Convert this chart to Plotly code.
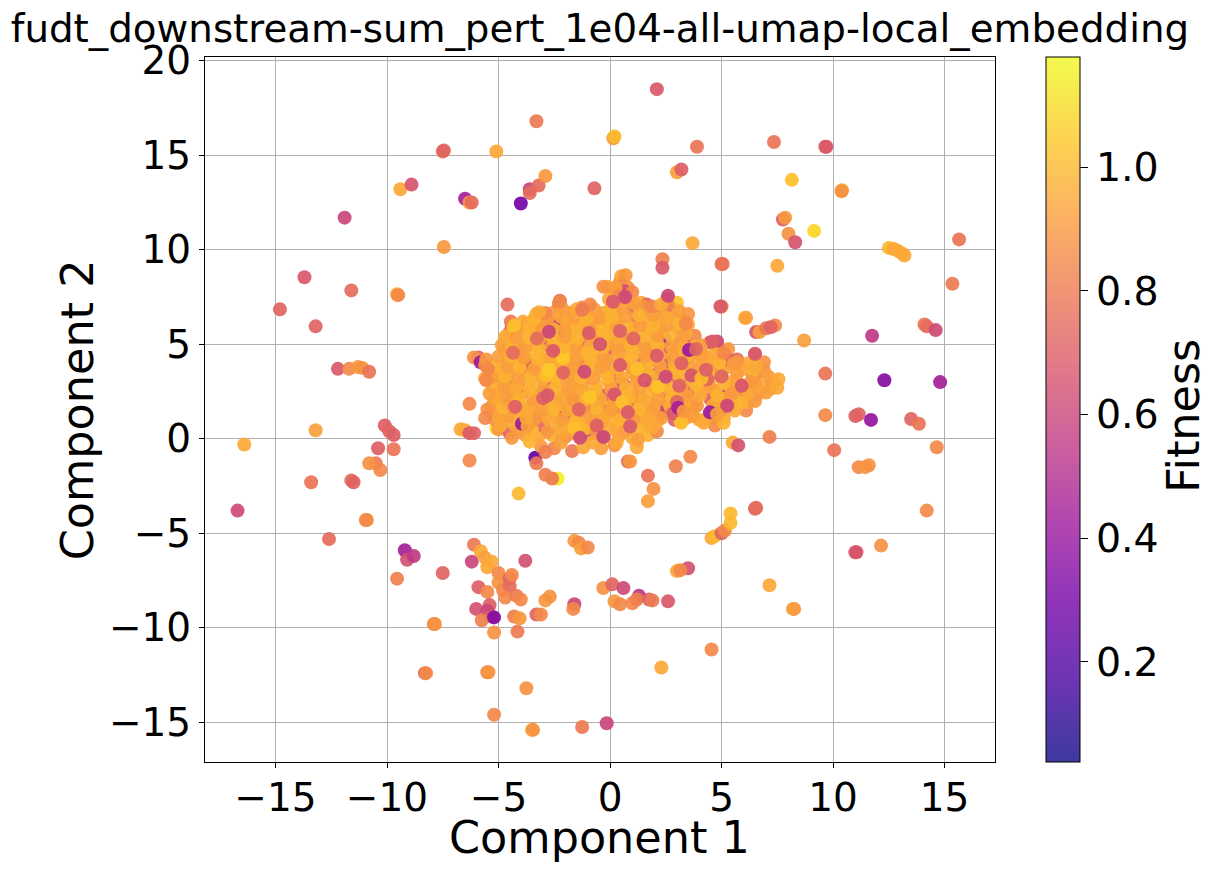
import plotly.graph_objects as go
import plotly.colors as pc

TITLE = "fudt_downstream-sum_pert_1e04-all-umap-local_embedding"

# (component 1, component 2, fitness)
outer_left = [
(-16.7,-3.8,.62),(-16.4,-.3,.95),(-14.8,6.85,.72),(-13.7,8.55,.68),(-13.2,5.95,.72),(-13.4,-2.3,.78),(-13.2,.45,.92),
(-12.6,-5.3,.75),(-12.2,3.7,.68),(-11.9,11.7,.6),(-11.6,7.85,.75),(-11.7,3.7,.85),(-11.3,3.8,.9),(-11.1,3.75,.88),
(-10.8,3.55,.78),(-11.6,-2.2,.75),(-11.5,-2.3,.72),(-10.1,.7,.7),(-9.9,.4,.72),(-9.7,-.55,.78),(-9.7,.2,.7),
(-10.4,-.5,.7),(-10.5,-1.3,.8),(-10.8,-1.3,.88),(-10.3,-1.65,.85),(-10.9,-4.3,.9),(-10.95,-4.3,.85),(-9.55,7.65,.95),
(-9.5,7.6,.85),(-9.4,13.2,.95),(-8.9,13.45,.66),(-7.5,15.2,.78),(-7.45,15.25,.72),(-7.45,10.15,.9),(-6.5,12.7,.45),
(-6.3,12.5,.9),(-6.2,12.5,.75),(-5.1,15.2,.95),(-3.3,16.8,.8),(-3.6,13.2,.6),(-3.6,13,.75),(-3.2,13.4,.75),
(-2.9,13.9,.9),(-4,12.45,.3),(-.7,13.25,.72),(.15,15.9,.9),(.2,16,1),
]
outer_right = [
(2.1,18.5,.68),(3,14.1,.92),(3.2,14.25,.7),(3.9,15.45,.78),(7.35,15.7,.78),(9.65,15.45,.72),(9.7,15.45,.68),
(8.15,13.7,1.02),(10.4,13.15,.95),(10.38,13.1,.88),(9.15,11,1.08),(7.75,11.6,.7),(7.85,11.7,.9),(8,10.85,.88),
(8.3,10.4,.66),(3.7,10.35,.95),(2.35,9.5,.82),(2.35,9.05,.68),(5,9.25,.72),(5.05,9.25,.78),(7.5,9.15,.95),
(12.5,10.1,1),(12.7,10.05,.95),(12.9,9.95,.95),(13.1,9.8,.95),(13.2,9.7,.95),(15.65,10.55,.78),(15.35,8.2,.8),
(14.1,6.05,.78),(14.2,5.95,.75),(14.6,5.75,.62),(11.75,5.45,.55),(8.7,5.2,.92),(9.65,3.45,.78),(12.3,3.1,.35),
(14.8,3,.45),(9.65,1.25,.85),(11,1.2,.7),(11.15,1.3,.72),(11.7,1,.4),(13.5,1.05,.72),(13.85,.8,.78),(14.65,-.45,.85),
(10.05,-.6,.78),(11.15,-1.5,.85),(11.45,-1.5,.9),(11.6,-1.4,.88),(14.2,-3.8,.85),(11.05,-6,.72),(11,-6,.66),
(12.15,-5.65,.88),(7.15,-7.75,.95),(8.25,-9,.85),(8.2,-9,.92),(6.05,6.4,1),(6.1,6.4,.92),(6.55,5.65,.65),(6.7,5.65,.92),
(7,5.85,.8),(7.4,6,.85),(7.2,5.9,.72),(6.5,4.45,.72),
]
outer_bottom = [
(2.3,-12.1,.95),(4.55,-11.15,.85),(-.15,-15.05,.6),(-1.25,-15.25,.8),(-3.5,-15.4,.95),(-3.45,-15.4,.88),(-5.2,-14.6,.85),
(-3.75,-13.2,.88),(-5.5,-12.35,.8),(-5.45,-12.35,.9),(-8.3,-12.4,.75),(-8.25,-12.4,.85),(-7.9,-9.8,.82),(-7.85,-9.8,.88),
(-7.5,-7.1,.72),(-9.55,-7.4,.82),(-9.2,-5.9,.45),(-9.1,-6.4,.65),(-8.8,-6.2,.55),(-6.1,-5.6,.8),(-5.8,-5.95,.95),
(-6.2,-6.5,.6),(-5.6,-6.3,.92),(-5.5,-6.8,.95),(-5.3,-6.5,.95),(-5.9,-7.85,.7),(-5.5,-8.1,.85),(-6,-9,.65),(-5.4,-8.8,.7),
(-5.5,-9.1,.6),(-5.3,-9.4,.68),(-5.75,-9.6,.82),(-5.2,-9.45,.35),(-5.2,-10.25,.88),(-5,-7.1,.85),(-5,-7.6,.88),(-4.8,-8,.85),
(-4.5,-7.4,.7),(-4.5,-7.8,.75),(-4.7,-8.4,.85),(-4.2,-8.3,.8),(-4,-8.5,.85),(-3.8,-6.45,.65),(-4.4,-7.2,.85),(-4.3,-9.4,.82),
(-4.15,-10.2,.8),(-4.05,-9.5,.9),(-2.9,-8.55,.9),(-2.7,-8.35,.88),(-3.3,-9.3,.72),(-3.1,-9.3,.85),(-1.6,-8.75,.6),
(-1.65,-9,.85),(-1.6,-5.4,.9),(-1.4,-5.5,.85),(-1.3,-5.8,.92),(-1,-5.75,.85),(-.3,-7.9,.88),(.1,-7.7,.72),(.6,-7.9,.62),
(1.3,-8.3,.55),(1,-8.7,.85),(.2,-8.6,.9),(.45,-8.75,.85),(1.2,-8.5,.82),(1.75,-8.5,.72),(1.9,-8.55,.8),(2.6,-8.6,.68),
(3,-7,.95),(3.5,-6.85,.65),(3.15,-6.95,.85),(4.55,-5.25,.95),(4.7,-5.15,1),(5,-5,.72),(5.15,-4.85,.85),(5.4,-4.45,1),
(5.4,-3.95,1),(6.5,-3.7,.72),(6.55,-3.65,.75),(1.7,-3.3,.92),(1.95,-2.65,.88),(1.7,-1.95,.78),(2.95,-1.45,.82),(3.6,-.95,.85),
(-4.1,-2.9,1),(-2.35,-2.1,1.15),(-2.6,-2.1,.8),(-2.9,-1.9,.82),(-3.35,-1,.25),(-3.3,-1.3,.8),(.8,-1.2,.75),(.9,-1.2,.9),
(7.15,.1,.82),(5.5,-.2,.95),(5.75,-.35,.65),(-6.3,-1.15,.85),(-6.5,.45,.95),(-6.7,.5,.95),(-6.3,.3,.68),(-6.1,.3,.72),
(-6.3,1.85,.85),(-5.1,.55,1.1),(-5,.5,.9),
]
cluster_accents = [
(-3.6,3.7,.72),(-1.2,4.6,.62),(-.2,1.5,.38),(-1.5,2.7,.7),(1,2.1,.42),(2.5,1.7,.35),(-2.1,5.9,.62),(.4,1.3,.66),(3.6,4.5,.68),(-4.6,3,.35),(1.8,4.6,.55),(.7,5,.66),(2.45,5.25,.45),(-2.3,6.3,.45),(3.7,1.6,.58),(-4.3,1.6,.5),(-2.05,1.5,.45),(-.6,2,.5),(1.9,3,.4),(5.2,2.3,.55),
]
cluster_low = [
(-3.1,-.4,.9),(-2.5,-.5,.85),(-1.7,-.65,.8),(-1.2,-.45,.95),(-.4,-.5,.92),(.2,-.35,.88),(1.2,-.45,.95),(-2.9,-.7,.82),
(-4.5,.3,.7),(-3.8,.2,.92),(-3.2,.15,.95),(-2.6,.2,.98),(-2,.1,.88),(-1.4,.2,.95),(-.9,.25,.65),(-.3,.05,.92),(.4,.15,.9),(1,.05,.95),(1.7,.2,.98),(2.1,.4,.85),(4.7,.7,.85),
(-5.15,1,.88),(-4.8,.95,.92),(-4.3,.75,.95),(-3.6,.8,.88),(-3,.7,.72),(-2.3,.75,.95),(-1.7,.65,.92),(-1,.7,.98),(-.4,.8,.85),(.3,.7,.95),(.9,.75,.7),(1.5,.8,.92),(2.1,.9,.98),(2.9,1,.7),(3.4,1.1,.92),(4,1,.95),(4.6,1.15,.85),(5.1,1.1,.95),(6.1,1.5,.85),
(-5.3,1.4,.75),(-4.3,1.4,.92),(-3.8,1.3,.95),(-3.2,1.2,.85),(-2.6,1.3,.98),(-2,1.25,.7),(-1.4,1.2,.95),(-.7,1.35,.9),(-.1,1.3,.95),(.6,1.25,.88),(1.2,1.35,1),(1.8,1.4,.92),(2.4,1.35,.62),(3,1.5,.95),(3.7,1.5,.98),(4.9,1.7,.85),(5.4,1.7,.9),(6.2,1.95,.92),
(-5.2,1.95,.9),(-4.6,1.8,.65),(-4.1,1.9,1),(-3.5,1.75,.95),(-2.9,1.9,.92),(-2.3,1.85,.85),(-1.7,1.8,.95),(-1.1,1.75,.78),(-.5,1.85,.92),(.1,1.8,.98),(.8,1.9,.72),(1.4,1.85,.95),(2,1.8,.9),(2.6,1.95,.95),(3.2,2,.85),(3.8,2,.92),(4.5,2.1,.7),(5.1,2.1,.95),(5.7,2.2,.92),(6.6,2.35,.88),(7.2,2.65,.92),
(-5,2.45,.92),(-4.4,2.4,.88),(-3.9,2.5,.68),(-3.3,2.3,.95),(-2.7,2.4,1),(-2.1,2.35,.9),(-1.5,2.3,.95),(-.9,2.4,.88),(-.3,2.3,.7),(.4,2.4,.95),(1,2.35,.92),(1.7,2.4,.98),(2.3,2.5,.85),(2.9,2.45,.95),(3.5,2.5,.72),(4.1,2.6,.92),(4.7,2.55,.9),(5.4,2.7,.95),(6,2.6,.85),(6.8,2.75,.95),
]
cluster_mid = [
(-5,3,.95),(-4.6,3.05,.92),(-4,2.95,.9),(-3.5,3,.98),(-2.9,2.85,.72),(-2.3,3,.92),(-1.7,2.9,.95),(-1.2,3,.85),(-.6,2.85,.98),(0,2.95,.9),(.6,2.9,.65),(1.2,3,.92),(2.5,3.1,.88),(3.1,3.05,.7),(3.7,3.1,.95),(4.4,3.2,.9),(5,3.25,.72),(5.6,3.1,.92),(6.5,3.25,.88),(7.3,3,.92),
(-5,3.6,.9),(-4.5,3.5,.98),(-3.9,3.55,.88),(-3.3,3.45,.95),(-2.7,3.55,.92),(-2.1,3.5,.72),(-1.6,3.4,1),(-.9,3.5,.9),(-.3,3.55,.95),(.3,3.45,.72),(1,3.5,.95),(1.6,3.6,.88),(2.2,3.55,.65),(2.8,3.65,.92),(3.4,3.6,.98),(4,3.7,.9),(4.7,3.75,.85),(5.3,3.8,.92),(6,3.7,.95),(6.4,3.4,.85),(6.9,3.6,.88),
(-5.6,3.2,.95),(-5.9,4.3,.72),(-6.1,4.3,.88),(-5.8,4.05,.42),(-5.6,3.9,.85),(-5.4,3.6,.9),(-5.55,4.2,.9),
(-4.6,4.1,.92),(-4,4.05,.95),(-3.5,3.95,.72),(-2.9,4.1,.9),(-2.4,4,1),(-1.8,4.05,.92),(-1.2,3.95,.75),(-.6,4.1,.95),(0,4,.88),(.6,4.05,.95),(1.3,4.1,.78),(1.9,4.15,.92),(2.5,4.05,.65),(3.1,4.15,.95),(3.7,4.3,.98),(4.4,4.3,.92),(5,4.35,.88),(5.7,4.2,.75),
(-4.7,4.65,.9),(-4.2,4.55,.72),(-3.6,4.6,1),(-3,4.5,.95),(-2.4,4.55,.88),(-1.9,4.6,.95),(-1.3,4.5,.9),(-.7,4.6,.98),(-.1,4.55,.72),(.5,4.6,.9),(1.1,4.55,.95),(1.7,4.65,.88),(2.3,4.7,.66),(2.9,4.6,.95),(3.5,4.65,.72),(4.1,4.6,.92),(4.8,4.9,.95),(5.3,4.75,.9),
(-4.5,5.15,.92),(-4,5.05,.82),(-3.4,5.1,.95),(-2.8,5,.68),(-2.2,5.05,.92),(-1.7,5.15,.98),(-1.1,5.05,.72),(-.5,5.1,.95),(.1,5.05,.9),(.8,5.1,.98),(1.4,5.15,.85),(2,5.2,.95),(3.1,5.1,.85),(3.6,5,.7),(4.5,5.1,.7),(5.3,4.2,.72),
]
cluster_top = [
(-4.5,5.65,.85),(-4.4,5.95,.62),(-4.35,5.9,1.02),(-3.9,5.6,.95),(-3.3,5.7,.85),(-2.8,5.55,.92),(-2.3,5.65,.68),(-1.8,5.6,.95),(-1.2,5.7,.9),(-.6,5.55,.98),(0,5.6,.95),(.5,5.65,.85),(1,5.7,.95),(1.7,5.8,.92),(2.3,5.7,.88),(3,5.9,.92),(3.4,5.9,.92),(3.8,5.45,.85),(4.5,5.1,.68),
(-3.7,6.05,.85),(-3.1,6.1,.78),(-2.5,6.05,.55),(-1.9,6.15,.95),(-1.3,6.05,.88),(-.7,6.2,.95),(-.1,6.1,.98),(.4,6.25,.9),(1.1,6.2,.78),(1.6,6.4,.95),(2.1,6.2,.88),(2.8,6.5,.92),(3.3,6.3,.95),(3.5,6.05,.95),(3.4,5.55,.95),
(-3.3,6.6,.92),(-2.5,6.7,.9),(-1.8,6.65,.88),(-1,6.6,.92),(-.3,6.65,.95),(.3,6.7,.85),(1,6.8,.72),(1.6,6.9,.88),(2.4,6.7,.85),(2.8,6.9,.95),(3,7.2,1.02),(2.6,7.05,.82),(2.55,7.4,.85),
(-2.3,7.15,.85),(-2.25,7.3,.75),(-1.25,6.95,.85),(-1.15,6.75,.95),(-.8,6.3,.9),(.1,7.1,.95),(.3,7.3,.72),(.7,7.5,.65),(.8,7.4,.88),(1.4,7.2,.95),(1.65,7.1,.72),(1.5,7,.9),
(-.1,8.05,.95),(.2,7.7,.88),(.45,8.3,.82),(.5,8.6,.95),(.7,8.65,.9),(.55,8.1,.85),(.8,8,.88),(.65,7.8,.62),(-4.6,7.1,.75),(-.3,8.05,.88),
(5,7,.82),(4.95,7,.68),(4.8,5.15,.62),(-3.4,6.3,.95),(-3.3,6.55,1.02),(-3.9,6.2,.95),(-4.45,6.2,.8),
]
cluster_fill_a = [
(-4.9,.7,.95),(-4.1,.45,.92),(-3.5,.5,.98),(-2.8,.4,.9),(-2.2,.35,.95),(-1.6,.3,.92),(-1.1,.55,.98),(-.6,.4,.88),(0,.5,.95),(.7,.45,.92),(1.3,.5,.98),(1.9,.6,.95),
(-5.05,1.25,.95),(-4.55,1.2,.92),(-4,1.05,.98),(-3.4,1,.9),(-2.75,1.05,.95),(-2.15,1,.92),(-1.55,.95,.98),(-.85,1.05,.92),(-.25,1,.95),(.4,1,.98),(1.05,1.05,.9),(1.65,1.1,.95),(2.3,1.1,.92),(3.1,1.25,.98),(3.7,1.2,.92),(4.3,1.05,.95),(4.9,1.3,.9),(5.6,1.5,.95),
(-5.3,1.7,.92),(-4.8,1.65,.98),(-4.3,1.65,.9),(-3.7,1.55,.95),(-3.1,1.5,.92),(-2.5,1.6,.98),(-1.9,1.55,.95),(-1.25,1.5,.9),(-.6,1.6,.98),(.05,1.55,.92),(.7,1.6,.95),(1.3,1.6,.98),(1.95,1.6,.92),(2.7,1.7,.95),(3.3,1.75,.98),(3.9,1.75,.9),(4.6,1.75,.95),(5.2,1.9,.92),(5.9,1.9,.98),(6.5,2,.9),
(-5.1,2.2,.95),(-4.6,2.15,.92),(-4.05,2.15,.98),(-3.45,2.05,.92),(-2.85,2.15,.98),(-2.25,2.1,.95),(-1.65,2.05,.9),(-1.05,2.1,.98),(-.45,2.1,.95),(.2,2.05,.92),(.85,2.15,.98),(1.5,2.1,.95),(2.15,2.1,.92),(2.8,2.2,.98),(3.45,2.25,.92),(4.05,2.3,.95),(4.8,2.3,.98),(5.5,2.45,.9),(6.2,2.4,.95),(7,2.45,.92),
(-5.25,2.75,.98),(-4.75,2.7,.92),(-4.2,2.7,.95),(-3.6,2.6,.98),(-3,2.6,.92),(-2.45,2.7,.98),(-1.85,2.6,.92),(-1.25,2.65,.95),(-.65,2.6,.98),(.05,2.65,.92),(.7,2.65,.98),(1.35,2.7,.92),(2,2.7,.95),(2.6,2.75,.98),(3.2,2.75,.92),(3.85,2.85,.98),(4.45,2.9,.92),(5.1,2.95,.98),(5.8,2.9,.95),(6.5,2.95,.92),(7.5,2.7,.95),
(-5.2,3.3,.92),(-4.7,3.3,.98),(-4.15,3.25,.92),(-3.55,3.25,.98),(-3,3.2,.95),(-2.45,3.3,1),(-1.85,3.2,.92),(-1.3,3.25,.98),(-.75,3.2,.92),(-.1,3.25,.98),(.55,3.2,.95),(1.2,3.3,.92),(1.85,3.3,.98),(2.45,3.4,.92),(3.1,3.35,.98),(3.75,3.4,.92),(4.4,3.5,.98),(5,3.5,.95),(5.7,3.45,.92),(6.4,3.6,.98),(7.1,3.3,.92),
(-5.1,3.85,.98),(-4.6,3.8,.92),(-4.05,3.8,.98),(-3.4,3.7,.92),(-2.8,3.8,.98),(-2.2,3.75,.95),(-1.6,3.75,.92),(-1,3.75,.98),(-.4,3.8,.92),(.3,3.75,.98),(.95,3.8,.92),(1.6,3.85,.98),(2.25,3.85,.92),(2.9,3.9,.98),(3.5,3.95,.92),(4.2,4,.95),(4.9,4.05,.98),(5.55,3.95,.92),(6.2,4,.95),
]
cluster_fill_b = [
(-5,4.35,.92),(-4.45,4.35,.98),(-3.85,4.3,.92),(-3.25,4.25,.98),(-2.65,4.3,.95),(-2.1,4.28,1.05),(-1.5,4.25,.92),(-.9,4.3,.98),(-.3,4.3,.92),(.3,4.3,.95),(.95,4.3,.98),(1.6,4.4,.92),(2.2,4.4,.98),(2.8,4.35,.92),(3.4,4.35,.98),(4.05,4.4,.92),(4.7,4.5,.95),
(-4.85,4.95,.92),(-4.35,4.9,.98),(-3.8,4.85,.92),(-3.2,4.8,.98),(-2.6,4.85,.92),(-2.05,4.85,.98),(-1.5,4.8,.92),(-.9,4.85,.95),(-.3,4.85,.98),(.3,4.85,.92),(.95,4.85,.98),(1.55,4.9,.92),(2.15,4.95,.98),(2.75,4.9,.92),(3.3,4.85,.95),(3.85,4.9,.98),
(-4.7,5.4,.95),(-4.2,5.35,.92),(-3.65,5.35,.98),(-3.1,5.4,.92),(-2.55,5.3,.98),(-2,5.4,.92),(-1.45,5.3,.98),(-.85,5.35,.92),(-.25,5.35,.98),(.35,5.35,.95),(.95,5.4,.92),(1.55,5.45,.98),(2.15,5.45,.92),(2.7,5.5,.98),(3.25,5.45,.92),
(-4.15,5.85,.92),(-3.6,5.85,.98),(-3.05,5.85,.92),(-2.55,5.8,.98),(-2,5.85,.92),(-1.45,5.9,.98),(-.9,5.85,.92),(-.3,5.9,.98),(.3,5.95,.92),(.8,5.95,.98),(1.35,6,.92),(1.95,6,.98),(2.55,6,.92),(3.1,6.1,.98),
(-3.4,6.35,.98),(-2.8,6.35,.92),(-2.2,6.45,.95),(-1.6,6.4,.92),(-1.05,6.35,.98),(-.45,6.4,.92),(.1,6.45,.98),(.7,6.5,.92),(1.3,6.55,.98),(1.95,6.55,.92),(2.5,6.4,.95),
(-2.9,6.65,.85),(-2.15,6.9,.92),(-1.5,6.85,.95),(-.7,6.85,.92),(0,6.85,.98),(.55,7,.92),(1.9,7,.85),(2.3,7.1,.95),(3.1,6.75,.92),
(.25,8,.92),(.35,7.55,.85),(-.05,7.4,.95),(1,7.75,.85),(1.1,7.15,.92),(-.9,7.1,.85),
(-4.3,6,1.02),(-5.47,3.7,.85),(-5.55,3.1,.85),(-5.4,2.4,.92),(-5.5,1.55,.88),(-5.6,1.1,.85),
(3.5,6.6,.9),(3.4,6.1,.85),(4.1,4.95,.92),(5.1,4.55,.85),(5.7,4.05,.9),(6.9,4.05,.88),(6.55,3.85,.95),(7.55,3.15,.95),(6.3,3,.9),(5.9,2.8,.66),
(4.75,1,.88),(5.1,.85,.98),(4.2,.85,.95),(3.15,.9,.92),(1.25,-.05,.92),(.3,-.2,.95),(-.8,-.2,.95),(-2.2,-.2,.92),(-3.6,-.15,.98),(-4.4,.05,.9),
(1.55,3.1,.66),(-1.15,3.55,.62),(.2,2.35,.66),(2.85,1.35,.68),(3.65,3.35,.66),(-.95,5.6,.68),(.45,5.7,.7),(1.05,5.3,.72),(-3,2.15,.7),(-1.4,1.55,.72),(2.1,4.4,.68),(3,1.95,.72),(-.6,.7,.7),(.9,.65,.68),(4.35,3.15,.72),(-4.25,1.7,.7),
(-1.25,6.83,.8),(-3.18,6.7,.95),(-2.24,7.25,.85),(-2.85,3.35,1.02),(1.2,3.7,1.02),(-.9,2.2,1.04),(2.15,2.75,1.04),(4.1,3.2,1),(3.2,.85,1.02),(-1.6,.55,1.02),(.55,1.95,1.02),
]
cluster_spots = [
(4.48,1.4,.42),(3.54,4.7,.42),(2.5,3.28,.62),(2.6,7.57,.6),(.67,7.5,.62),(6.5,4.5,.68),(4.6,5.15,.7),(4.3,3.65,.7),(5,3.3,.72),(3.2,4,.7),(3.1,2.8,.7),
(.8,1.4,.68),(5.25,1.75,.6),(3.05,1.64,.45),(-3.95,.8,.42),(-2.74,5.66,.6),(-2.55,4.65,.68),(-4.35,4.55,.75),(-3.28,5.3,.75),(-2.74,3.65,1.05),(-2.1,3.5,.72),
(-2.8,2.3,.68),(-.3,.1,.6),(-1.35,.05,.62),(.13,7.25,.68),(-.45,5,.65),(.45,3.9,.68),(-1.03,4.55,.98),
(3.85,4.75,.72),(-3.7,.65,.92),(-3.75,1.1,.95),(4.8,1.3,.92),(3.3,1.45,.9),
]

points = (outer_left + outer_right + outer_bottom + cluster_accents + cluster_low + cluster_mid
          + cluster_top + cluster_fill_a + cluster_fill_b + cluster_spots)
component_1 = [p[0] for p in points]
component_2 = [p[1] for p in points]
fitness = [p[2] for p in points]

X_TICKS = [-15, -10, -5, 0, 5, 10, 15]
Y_TICKS = [-15, -10, -5, 0, 5, 10, 15, 20]
CBAR_TICKS = [0.2, 0.4, 0.6, 0.8, 1.0]
CMIN, CMAX = 0.038, 1.178

def scale_with_alpha(a):
    out = []
    plasma = pc.sequential.Plasma
    for i, c in enumerate(plasma):
        r, g, b = pc.hex_to_rgb(c)
        out.append([i / (len(plasma) - 1), f"rgba({r},{g},{b},{a})"])
    return out

FONT = "DejaVu Sans"
fig = go.Figure()
fig.add_trace(go.Scatter(
    x=component_1, y=component_2, mode="markers", showlegend=False,
    marker=dict(size=14, color=fitness, colorscale=scale_with_alpha(0.92), cmin=CMIN, cmax=CMAX, line=dict(width=0)),
))
# colour-bar carrier: no visible mark of its own
fig.add_trace(go.Scatter(
    x=[None], y=[None], mode="markers", showlegend=False,
    marker=dict(size=1, color=[CMIN], colorscale=scale_with_alpha(0.8), cmin=CMIN, cmax=CMAX, showscale=True,
                colorbar=dict(tickvals=CBAR_TICKS, ticktext=["0.2", "0.4", "0.6", "0.8", "1.0"],
                              tickfont=dict(size=39.5, family=FONT, color="black"),
                              ticks="outside", ticklen=8, tickcolor="black", tickwidth=1,
                              thickness=34, thicknessmode="pixels", len=1, lenmode="fraction",
                              x=1.0646, xanchor="left", xpad=0, y=0, yanchor="bottom", ypad=0,
                              outlinecolor="black", outlinewidth=1, borderwidth=0)),
))
axis = dict(showgrid=True, gridcolor="#b0b0b0", gridwidth=1, zeroline=False, showline=True, linecolor="black",
            linewidth=1, mirror=True, ticks="outside", tickcolor="black",
            tickfont=dict(size=39, family=FONT, color="black"))
fig.update_xaxes(axis, range=[-18.16, 17.26], tickvals=X_TICKS, ticktext=[str(v).replace("-", "\u2212") for v in X_TICKS],
                 ticklen=1, minor=dict(tickvals=X_TICKS, ticks="outside", ticklen=5, tickcolor="black", showgrid=False))
fig.update_yaxes(axis, range=[-17.1, 20.2], tickvals=Y_TICKS, ticktext=[str(v).replace("-", "\u2212") for v in Y_TICKS],
                 ticklen=5)
title_font = dict(size=44.5, family=FONT, color="black")
fig.add_annotation(text="Component 1", xref="paper", yref="paper", x=0.4998, y=-0.1078, xanchor="center", yanchor="middle",
                   showarrow=False, font=title_font)
fig.add_annotation(text="Component 2", xref="paper", yref="paper", x=-0.161, y=0.5, xanchor="center", yanchor="middle",
                   textangle=-90, showarrow=False, font=title_font)
fig.add_annotation(text="Fitness", xref="paper", yref="paper", x=1.2392, y=0.491, xanchor="center", yanchor="middle",
                   textangle=-90, showarrow=False, font=title_font)
fig.update_layout(
    width=1213, height=872, margin=dict(l=205, r=218, t=57, b=110, autoexpand=False),
    paper_bgcolor="white", plot_bgcolor="white", showlegend=False,
    title=dict(text=TITLE, font=dict(size=38.8, family=FONT, color="black"), x=0.4946, xanchor="center", y=0.9675, yanchor="middle"),
)
fig.write_html("out.html", post_script="document.body.style.margin='0';", config={"displayModeBar": False})
